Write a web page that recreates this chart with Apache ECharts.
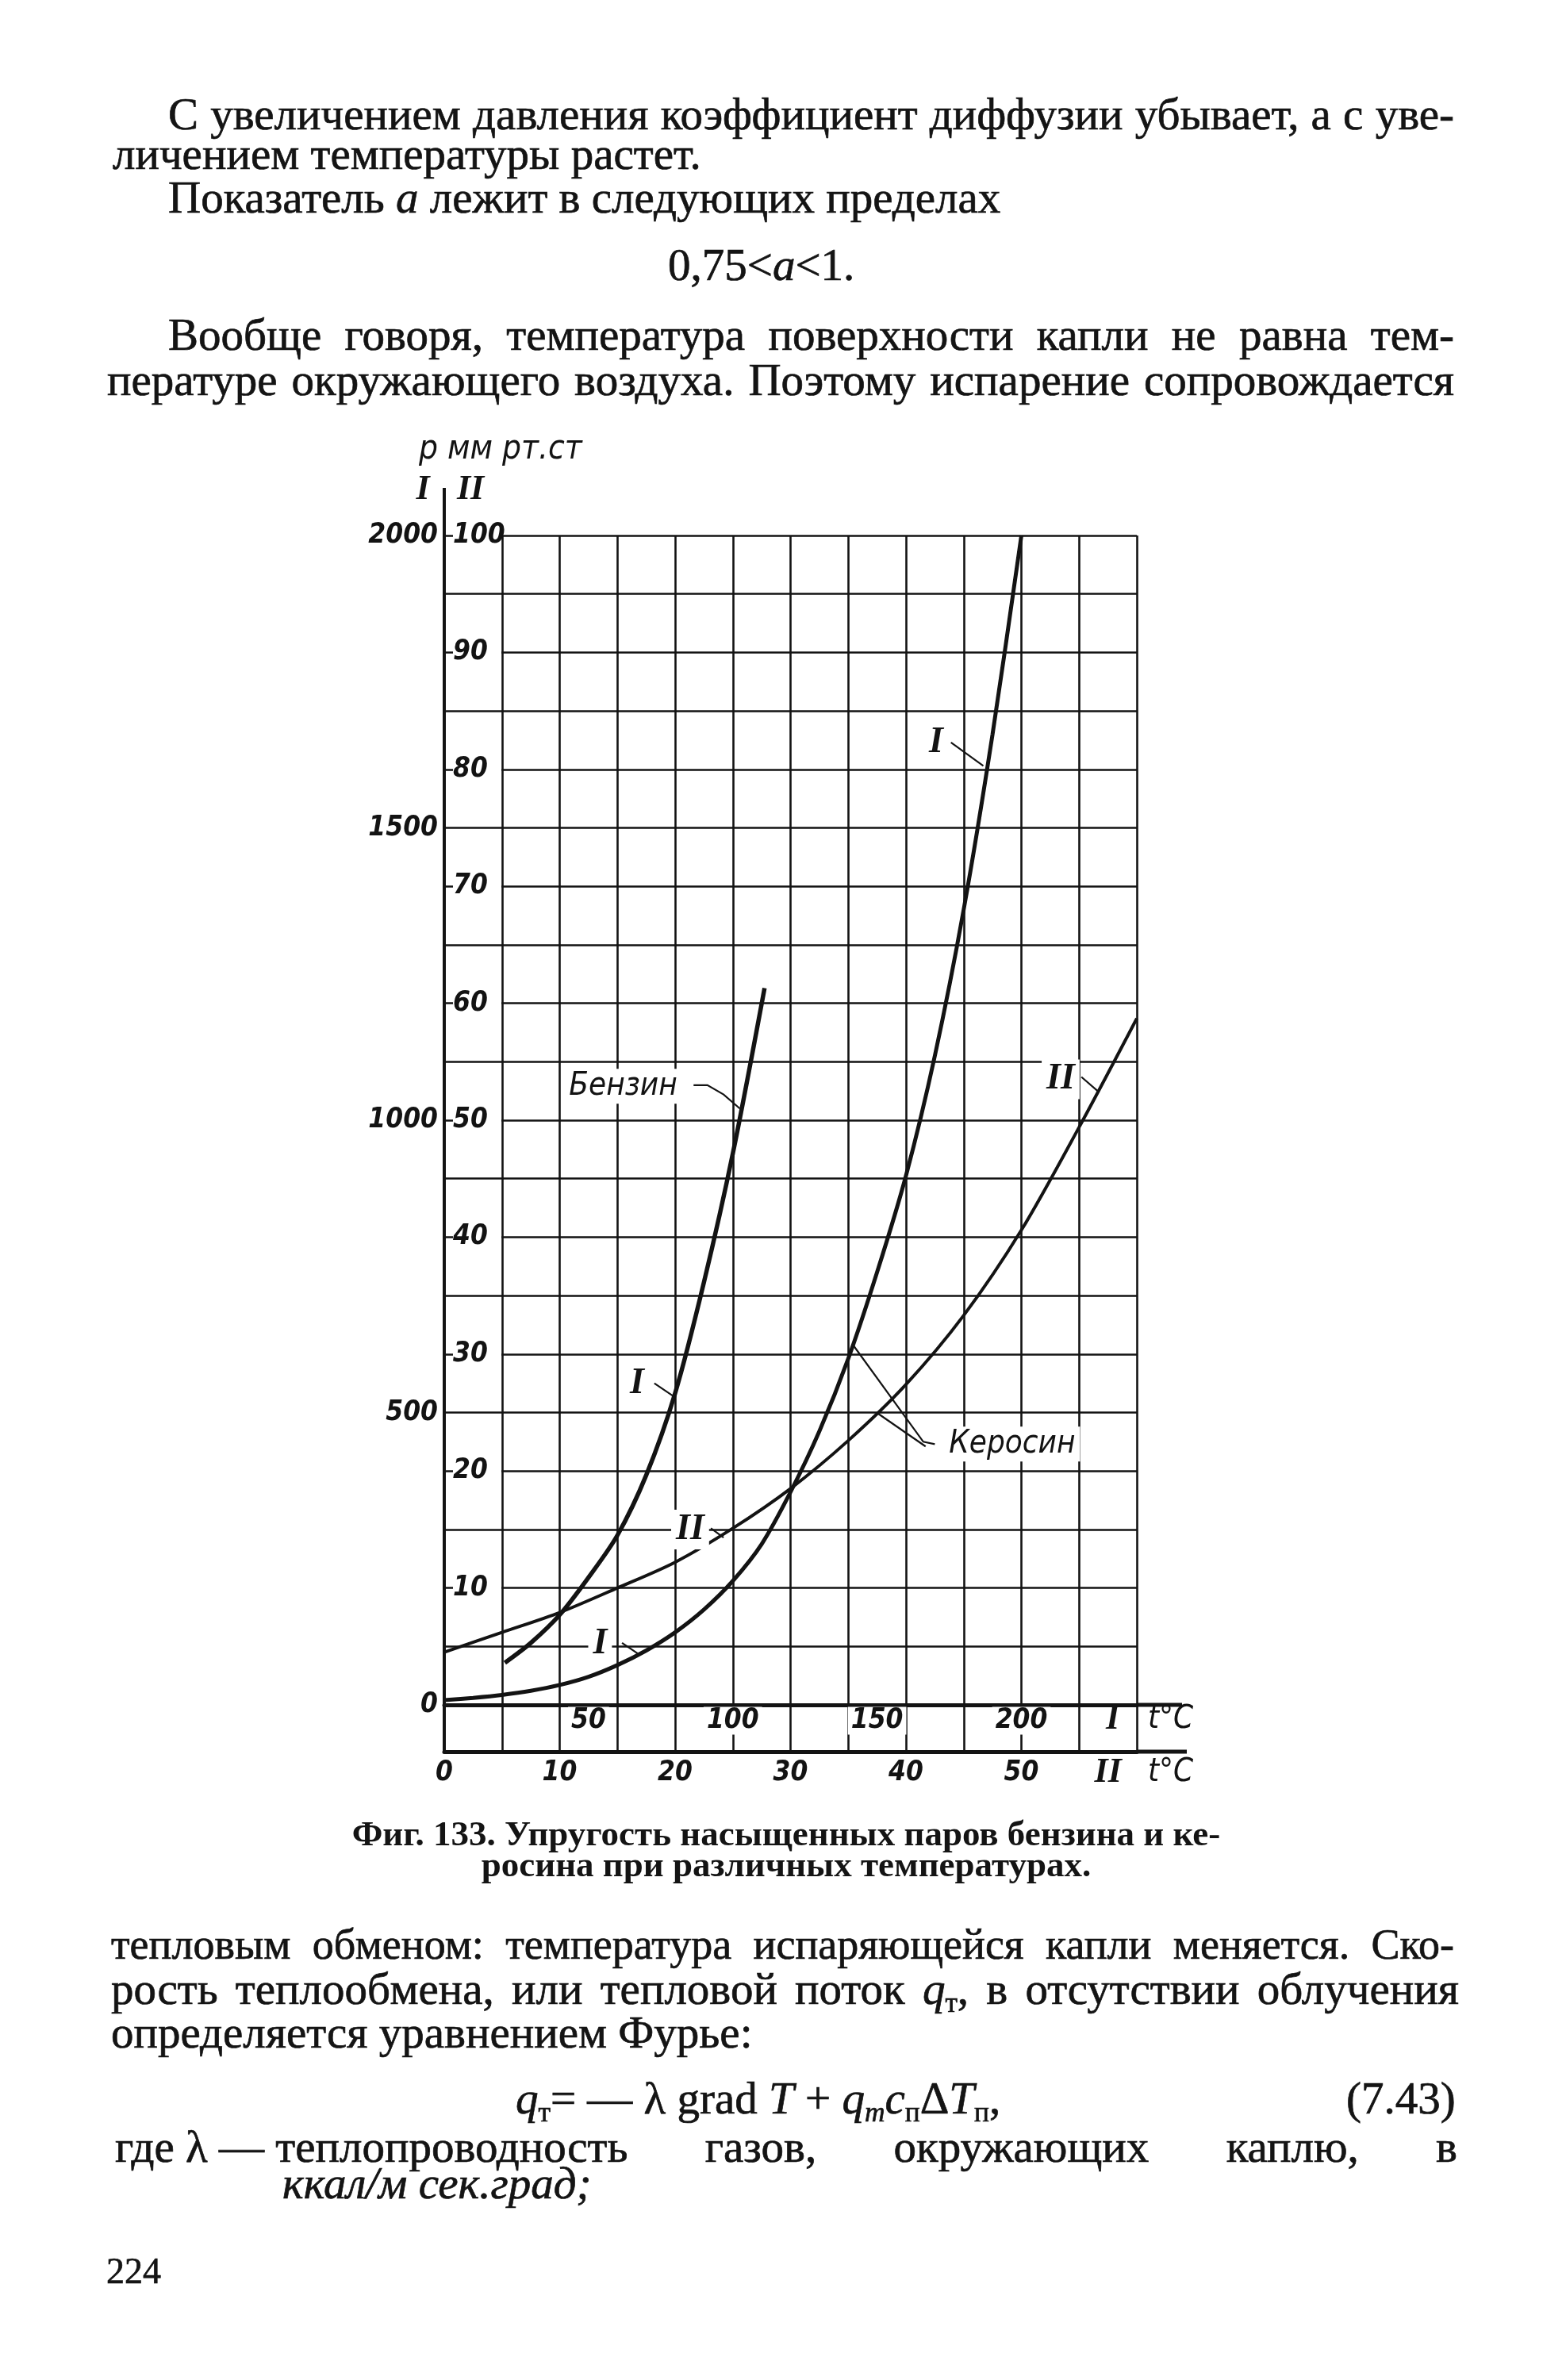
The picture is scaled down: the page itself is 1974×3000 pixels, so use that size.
<!DOCTYPE html>
<html lang="ru">
<head>
<meta charset="utf-8">
<title>Фиг. 133. Упругость насыщенных паров бензина и керосина</title>
<script src="https://cdn.jsdelivr.net/npm/echarts@6/dist/echarts.min.js"></script>
<style>
  html, body { margin: 0; padding: 0; background: #fff; }
  #page { position: relative; width: 1974px; height: 3000px; overflow: hidden; background: #fff; }
  #chart { position: absolute; left: 0; top: 0; width: 1974px; height: 3000px; }
  .t { position: absolute; font-family: 'Liberation Serif', 'DejaVu Serif', serif; font-size: 57px;
       line-height: 60px; color: #141414; white-space: nowrap; -webkit-text-stroke: 0.7px #141414; }
  .j { text-align: justify; text-align-last: justify; white-space: normal; }
  .cap { font-weight: bold; font-size: 45px; line-height: 48px; text-align: center; width: 1400px; left: 291px;
         -webkit-text-stroke: 0; }
  .keep { display: inline-block; }
  sub { font-size: 0.62em; line-height: 0; vertical-align: -0.28em; }
</style>
</head>
<body>
<div id="page">
  <div id="chart"></div>

  <div class="t j" style="left:212px; top:114px; width:1621px">С увеличением давления коэффициент диффузии убывает, а с уве-</div>
  <div class="t" style="left:142px; top:164px">личением температуры растет.</div>
  <div class="t" style="left:212px; top:219px">Показатель <i>a</i> лежит в следующих пределах</div>
  <div class="t" style="left:842px; top:304px">0,75&lt;<i>a</i>&lt;1.</div>
  <div class="t j" style="left:212px; top:392px; width:1621px">Вообще говоря, температура поверхности капли не равна тем-</div>
  <div class="t j" style="left:135px; top:449px; width:1698px">пературе окружающего воздуха. Поэтому испарение сопровождается</div>

  <div class="t cap" style="top:2287px">Фиг. 133. Упругость насыщенных паров бензина и ке-</div>
  <div class="t cap" style="top:2326px">росина при различных температурах.</div>

  <div class="t j" style="left:140px; top:2421px; width:1693px; font-size:54px">тепловым обменом: температура испаряющейся капли меняется. Ско-</div>
  <div class="t j" style="left:140px; top:2477px; width:1699px">рость теплообмена, или тепловой поток <i>q</i><sub>т</sub>, в отсутствии облучения</div>
  <div class="t" style="left:140px; top:2532px">определяется уравнением Фурье:</div>
  <div class="t" style="left:650px; top:2615px"><i>q</i><sub>т</sub>=&nbsp;— λ&nbsp;grad&nbsp;<i>T</i>&nbsp;+&nbsp;<i>q<sub>m</sub>c</i><sub>п</sub>Δ<i>T</i><sub>п</sub>,</div>
  <div class="t" style="left:1697px; top:2615px">(7.43)</div>
  <div class="t j" style="left:145px; top:2676px; width:1692px"><span class="keep">где λ — теплопроводность</span> газов, окружающих каплю, в</div>
  <div class="t" style="left:356px; top:2722px"><i>ккал/м сек.град;</i></div>
  <div class="t" style="left:134px; top:2833px; font-size:46px">224</div>
</div>

<script>
// Керосин, шкала II: t, °C (0–60) и p, мм рт. ст. (0–100)
const kerosinT2 = [0, 5, 10, 15, 20, 25, 30, 35, 40, 45, 50, 55, 60];
const kerosinP2 = [4.5, 6.2, 7.9, 10.0, 12.2, 15.1, 18.5, 22.6, 27.4, 33.3, 40.6, 49.4, 58.7];

// Керосин, шкала I: t, °C (0–240) и p, мм рт. ст. (0–2000)
const kerosinT1 = [0, 10, 20, 30, 40, 50, 60, 70, 80, 90, 100, 110, 120, 130, 140, 150, 160, 170, 180, 190, 200];
const kerosinP1 = [8, 12, 17, 24, 34, 48, 68, 93, 124, 163, 212, 275, 364, 468, 592, 740, 905, 1110, 1360, 1660, 2000];

// Бензин, шкала I
const benzinT1 = [21, 30, 40, 50, 60, 70, 80, 90, 100, 111];
const benzinP1 = [72, 106, 154, 218, 290, 393, 533, 723, 943, 1226];

// подписи осей
const yTicksI = [0, 500, 1000, 1500, 2000];
const yTicksII = [10, 20, 30, 40, 50, 60, 70, 80, 90, 100];
const xTicksI = [50, 100, 150, 200];
const xTicksII = [0, 10, 20, 30, 40, 50];

// надписи на графике (в единицах шкалы II) и выноски к кривым
const notes = [
  { text: 'Бензин', kind: 'word', at: [15.5, 52.9], leaders: [[[21.6, 53.0], [22.8, 53.0], [24.2, 52.2], [25.6, 51.0]]] },
  { text: 'I', kind: 'roman', at: [16.7, 27.5], leaders: [[[18.2, 27.5], [20.0, 26.3]]] },
  { text: 'II', kind: 'roman', at: [21.3, 15.0], leaders: [[[23.1, 15.1], [24.2, 14.3]]] },
  { text: 'I', kind: 'roman', at: [13.5, 5.2], leaders: [[[15.4, 5.3], [16.9, 4.3]]] },
  { text: 'I', kind: 'roman', at: [42.6, 82.3], leaders: [[[43.9, 82.3], [46.7, 80.3]]] },
  { text: 'II', kind: 'roman', at: [53.4, 53.5], leaders: [[[55.2, 53.7], [56.6, 52.5]]] },
  { text: 'Керосин', kind: 'word', at: [49.2, 22.3],
    leaders: [[[42.5, 22.3], [41.5, 22.5], [35.4, 30.8]], [[41.7, 22.1], [37.6, 24.9]]] }
];

const ink = '#131313';
const sansFont = "'DejaVu Sans Condensed', 'DejaVu Sans', sans-serif";
const romanFont = "'Liberation Serif', 'DejaVu Serif', serif";
const numStyle = { fontFamily: sansFont, fontStyle: 'italic', fontWeight: 'bold', fontSize: 35, color: ink };
const gridLine = { color: ink, width: 2.6 };

const zip = (xs, ys) => xs.map((x, i) => [x, ys[i]]);

const chart = echarts.init(document.getElementById('chart'), null, { renderer: 'canvas' });

const option = {
  animation: false,
  grid: [
    { left: 560, top: 675, width: 873, height: 1474 },
    { left: 560, top: 2149, width: 873, height: 59 }
  ],
  xAxis: [
    {
      gridIndex: 0, type: 'value', min: 0, max: 60, interval: 5, position: 'bottom',
      axisLine: { onZero: false, lineStyle: { color: ink, width: 5 } },
      axisTick: { show: false }, axisLabel: { show: false },
      splitLine: { show: true, lineStyle: gridLine }
    },
    {
      gridIndex: 0, type: 'value', min: 0, max: 240, interval: 50, position: 'bottom',
      axisLine: { show: false, onZero: false }, axisTick: { show: false },
      axisLabel: {
        margin: 20, verticalAlign: 'middle', hideOverlap: false,
        formatter: v => (xTicksI.includes(v) ? '{b|' + v + '}' : ''),
        rich: { b: Object.assign({ backgroundColor: '#fff', padding: [0, 4], lineHeight: 30 }, numStyle) }
      },
      splitLine: { show: false }
    },
    {
      gridIndex: 1, type: 'value', min: 0, max: 60, interval: 5, position: 'bottom',
      axisLine: { onZero: false, lineStyle: { color: ink, width: 5 } },
      axisTick: { show: false },
      axisLabel: Object.assign({
        margin: 27, verticalAlign: 'middle', hideOverlap: false,
        formatter: v => (xTicksII.includes(v) ? String(v) : '')
      }, numStyle),
      splitLine: { show: true, lineStyle: gridLine }
    }
  ],
  yAxis: [
    {
      gridIndex: 0, type: 'value', min: 0, max: 100, interval: 5, position: 'left',
      axisLine: { onZero: false, lineStyle: { color: ink, width: 4 } },
      axisTick: { show: false },
      axisLabel: {
        inside: true, margin: 11, align: 'left', hideOverlap: false,
        formatter: v => (yTicksII.includes(v) ? '{b|' + v + '}' : ''),
        rich: { b: Object.assign({ backgroundColor: '#fff', width: 61, align: 'left', lineHeight: 32 }, numStyle) }
      },
      splitLine: { show: true, lineStyle: gridLine }
    },
    {
      gridIndex: 0, type: 'value', min: 0, max: 2000, interval: 500, position: 'left',
      axisLine: { show: false, onZero: false }, axisTick: { show: false },
      axisLabel: Object.assign({
        margin: 8, align: 'right', hideOverlap: false,
        formatter: v => (yTicksI.includes(v) ? String(v) : '')
      }, numStyle),
      splitLine: { show: false }
    },
    {
      gridIndex: 1, type: 'value', min: 0, max: 1, position: 'left',
      axisLine: { onZero: false, lineStyle: { color: ink, width: 4 } },
      axisTick: { show: false }, axisLabel: { show: false }, splitLine: { show: false }
    }
  ],
  series: [
    {
      name: 'Бензин I', type: 'line', xAxisIndex: 1, yAxisIndex: 1,
      data: zip(benzinT1, benzinP1), smooth: 0.3,
      symbol: 'none', lineStyle: { color: ink, width: 5.5 }, z: 5
    },
    {
      name: 'Керосин I', type: 'line', xAxisIndex: 1, yAxisIndex: 1,
      data: zip(kerosinT1, kerosinP1), smooth: 0.3,
      symbol: 'none', lineStyle: { color: ink, width: 5 }, z: 5
    },
    {
      name: 'Керосин II', type: 'line', xAxisIndex: 0, yAxisIndex: 0,
      data: zip(kerosinT2, kerosinP2), smooth: 0.3,
      symbol: 'none', lineStyle: { color: ink, width: 4 }, z: 5
    }
  ]
};

chart.setOption(option);

// надписи, выноски и продолжения осей
function drawNotes() {
  const P = p => chart.convertToPixel({ xAxisIndex: 0, yAxisIndex: 0 }, p);
  const g = [];
  const text = (x, y, s, font, extra) => g.push({
    type: 'text', x: x, y: y, z: 30,
    style: Object.assign({
      text: s, fill: ink, align: 'center', verticalAlign: 'middle',
      fontFamily: font === 'roman' ? romanFont : sansFont,
      fontStyle: 'italic',
      fontWeight: font === 'roman' ? 'bold' : 'normal',
      fontSize: font === 'roman' ? 46 : 40
    }, extra || {})
  });
  const line = (pts, w) => g.push({
    type: 'polyline', z: 30, shape: { points: pts },
    style: { stroke: ink, lineWidth: w || 2.2, fill: null }
  });

  notes.forEach(n => {
    const c = P(n.at);
    text(c[0], c[1], n.text, n.kind, { backgroundColor: '#fff', padding: [2, 6] });
    n.leaders.forEach(l => line(l.map(P)));
  });

  const o = P([0, 0]);
  const top = P([0, 100]);
  const right = P([60, 0]);
  const stripBottom = o[1] + 59;

  // ось ординат выше сетки
  line([[top[0], top[1] - 60], [top[0], top[1]]], 4);
  text(top[0] - 27, top[1] - 57, 'I', 'roman', { fontSize: 44 });
  text(top[0] + 33, top[1] - 57, 'II', 'roman', { fontSize: 44 });
  text(top[0] - 32, top[1] - 108, 'р мм рт.ст', 'word', { align: 'left', fontSize: 42 });

  // продолжения осей абсцисс вправо
  line([[right[0], right[1]], [right[0] + 57, right[1]]], 5);
  line([[right[0], stripBottom], [right[0] + 63, stripBottom]], 5);

  const xI = P([57.9, 0])[0];
  const xII = P([57.5, 0])[0];
  text(xI, o[1] + 19, 'I', 'roman', { fontSize: 44 });
  text(right[0] + 14, o[1] + 19, 't°C', 'word', { align: 'left', fontSize: 40 });
  text(xII, stripBottom + 27, 'II', 'roman', { fontSize: 44 });
  text(right[0] + 14, stripBottom + 27, 't°C', 'word', { align: 'left', fontSize: 40 });

  chart.setOption({ graphic: g });
}

drawNotes();
</script>
</body>
</html>
